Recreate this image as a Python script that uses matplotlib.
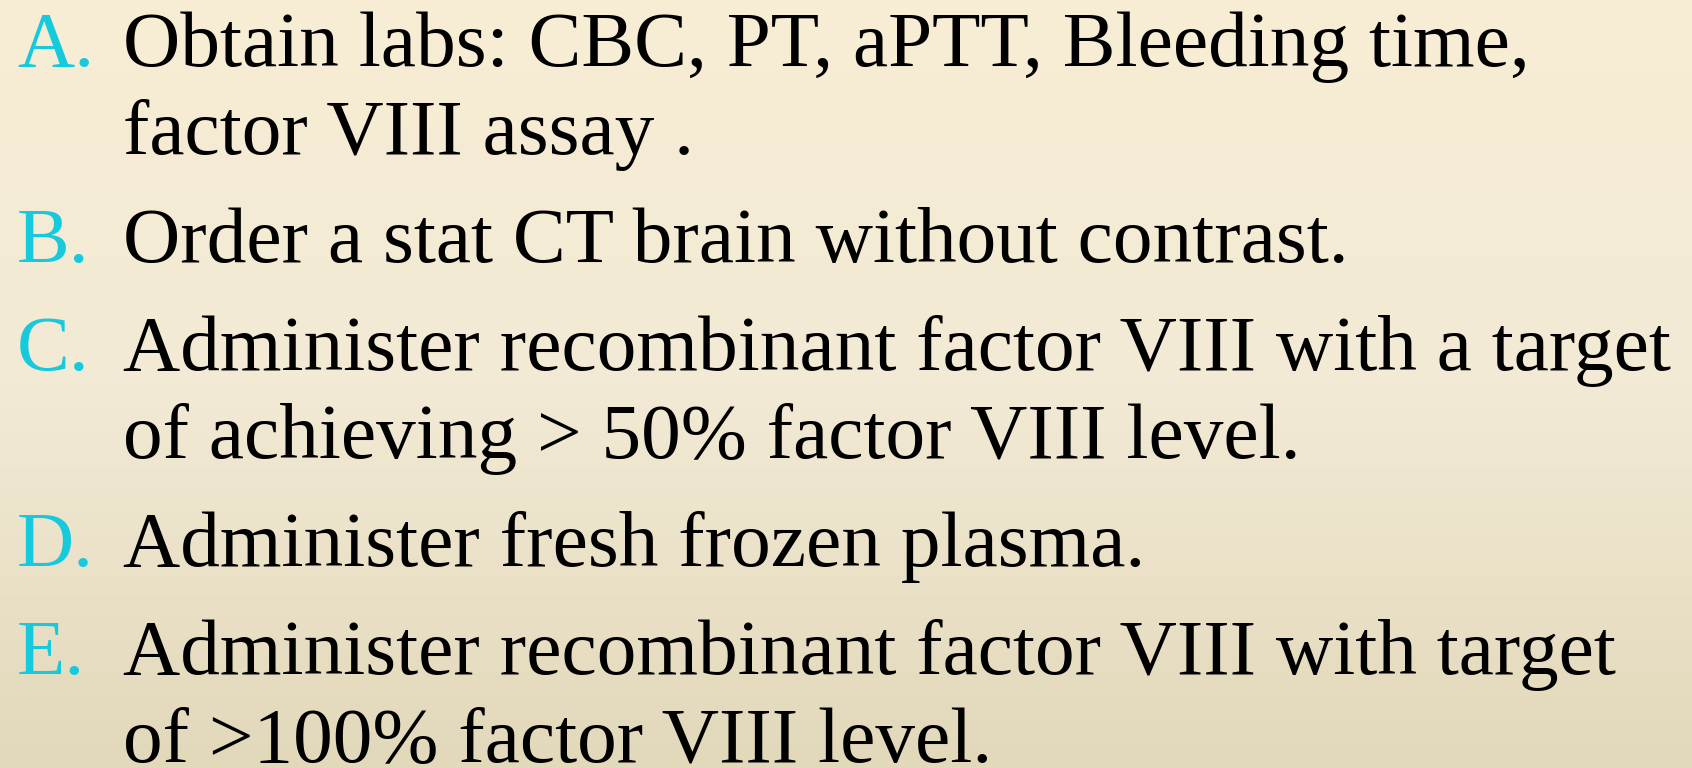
import numpy as np
import matplotlib
matplotlib.use('Agg')
from matplotlib import pyplot as plt
from matplotlib.colors import LinearSegmentedColormap

# Slide content
letters = ['A.', 'B.', 'C.', 'D.', 'E.']
options = [
    ['Obtain labs: CBC, PT, aPTT, Bleeding time,', 'factor VIII assay .'],
    ['Order a stat CT brain without contrast.'],
    ['Administer recombinant factor VIII with a target', 'of achieving > 50% factor VIII level.'],
    ['Administer fresh frozen plasma.'],
    ['Administer recombinant factor VIII with target', 'of >100% factor VIII level.'],
]

W, H = 1692, 768
fig = plt.figure(figsize=(W / 100, H / 100), dpi=100)
ax = fig.add_axes([0, 0, 1, 1])
ax.set_xlim(0, W)
ax.set_ylim(H, 0)
ax.axis('off')

# Background: soft vertical cream gradient
cmap = LinearSegmentedColormap.from_list('bg', ['#F8EDD4', '#F2EAD5', '#E2D8BA'])
grad = np.linspace(0, 1, 256).reshape(-1, 1)
ax.imshow(grad, cmap=cmap, aspect='auto', extent=[0, W, H, 0], zorder=0)

font = 'Liberation Serif'
letter_color = '#17C9DC'

# Fit font size so the longest line spans the same width as the slide
text_x, letter_x = 123, 17
target_w = 1672 - text_x
probe = ax.text(0, 0, options[2][0], fontsize=50, family=font)
fig.canvas.draw()
w50 = probe.get_window_extent().width
probe.remove()
fs = 50 * target_w / w50

y = 66
for letter, lines in zip(letters, options):
    ax.text(letter_x, y, letter, fontsize=fs, family=font, color=letter_color,
            va='baseline', ha='left')
    for i, line in enumerate(lines):
        ax.text(text_x, y, line, fontsize=fs, family=font, color='black',
                va='baseline', ha='left')
        if i < len(lines) - 1:
            y += 88
    y += 108

plt.savefig('out.png', dpi=100)
